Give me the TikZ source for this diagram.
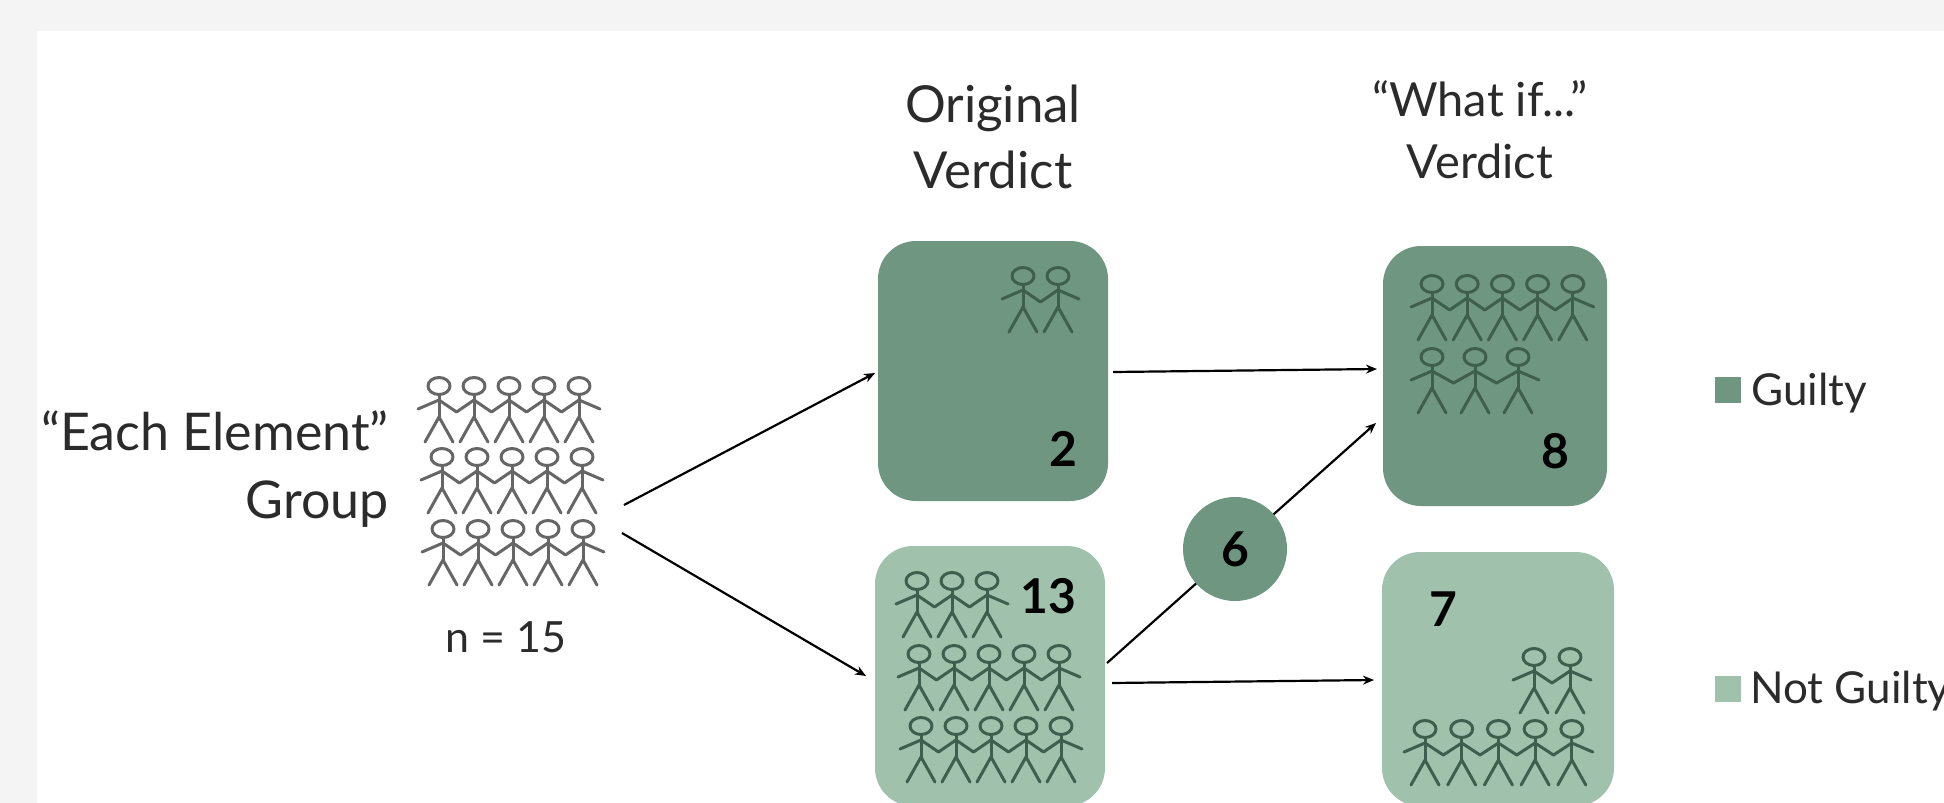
\documentclass[tikz,border=0pt]{standalone}
\usepackage{fontspec}
\setmainfont{Lato}
\usetikzlibrary{arrows.meta}
\definecolor{guiltyc}{HTML}{6F9680}
\definecolor{notc}{HTML}{A0C2AD}
\definecolor{pagec}{HTML}{F4F4F4}
\definecolor{inkc}{HTML}{2B2B2B}
\definecolor{greyfolk}{HTML}{666666}
\definecolor{greenfolk}{HTML}{3F5F4E}
\newcommand\fsz[2]{\fontsize{#1}{#2}\selectfont}
% x of first head, top y, head spacing, count, colour
\newcommand\folkrow[5]{%
  \begin{scope}[shift={(#1,#2)},draw=#5,line width=3pt,line cap=round,line join=round]
    \pgfmathtruncatemacro\lastidx{#4-1}
    \pgfmathtruncatemacro\penidx{#4-2}
    \foreach \i in {0,...,\lastidx}{
      \begin{scope}[shift={(\i*#3,0)}]
        \draw (0,9) ellipse [x radius=11,y radius=8.5];
        \draw (0,18) -- (0,40);
        \draw (-14,65) -- (0,40) -- (14,65);
      \end{scope}
    }
    \draw (0,23) -- (-21,32);
    \draw (\lastidx*#3,23) -- (\lastidx*#3+21,32);
    \ifnum\penidx>-1
    \foreach \i in {0,...,\penidx}{
      \draw (\i*#3,23) -- (\i*#3+#3/2,35) -- (\i*#3+#3,23);
    }
    \fi
  \end{scope}}
\tikzset{
  x=1pt,y=-1pt,
  box/.style={rectangle,rounded corners=38pt,draw=none,inner sep=0pt,minimum width=#1},
  boxg/.style={box=230pt,fill=guiltyc,minimum height=260pt},
  boxn/.style={box=230pt,fill=notc,minimum height=260pt},
  count/.style={font=\fsz{48}{56}\bfseries,text=black,inner sep=0pt},
  head/.style={text=inkc,align=center,inner sep=0pt},
  legend/.style={text=inkc,anchor=west,inner sep=0pt,font=\fsz{44}{50}},
  swatch/.style={rectangle,draw=none,inner sep=0pt,minimum size=26pt},
  conn/.style={black,line width=2.2pt,-{Stealth[length=11pt,width=9pt]}},
}
\begin{document}
\begin{tikzpicture}
\useasboundingbox (0,0) rectangle (1944,803);
\clip (0,0) rectangle (1944,803);
\fill[pagec] (0,0) rectangle (1944,803);
\fill[white] (37,31) rectangle (1944,803);

% headings
\node[head,font=\fsz{51}{66}] (orig) at (993,137) {Original\\Verdict};
\node[head,font=\fsz{47}{62}] (whatif) at (1480,130) {“What if...”\\Verdict};
\node[head,font=\fsz{52}{68},align=right,anchor=east] (group) at (389,469) {“Each Element”\\Group};
\node[head,font=\fsz{43}{48}] (nlabel) at (506,637) {n = 15};

% boxes
\node[boxg] (b1) at (993,371) {};
\node[boxg,minimum width=224pt] (b2) at (1495,376) {};
\node[boxn] (b3) at (990,676) {};
\node[boxn,minimum width=232pt,minimum height=254pt] (b4) at (1498,679) {};

% connector ends
\coordinate (g1) at (624,505);
\coordinate (g2) at (622,533);
\coordinate (t1) at (875,373);
\coordinate (t3) at (866,676);
\coordinate (o1) at (1113,372);
\coordinate (i2) at (1377,369);
\coordinate (o3) at (1112,683);
\coordinate (i4) at (1374,680);
\coordinate (o5) at (1107,663);
\coordinate (i5) at (1376,423);

\draw[conn] (g1) -- (t1);
\draw[conn] (g2) -- (t3);
\draw[conn] (o1) -- (i2);
\draw[conn] (o3) -- (i4);
\draw[conn] (o5) -- (i5);

\node[circle,fill=guiltyc,draw=none,minimum size=104pt,inner sep=0pt,font=\fsz{48}{56}\bfseries,text=black] (six) at (1235,549) {6};

% group
\folkrow{439}{377}{35}{5}{greyfolk}
\folkrow{442}{448}{35}{5}{greyfolk}
\folkrow{443}{520}{35}{5}{greyfolk}

% box figures
\folkrow{1023}{267}{35}{2}{greenfolk}
\folkrow{1432}{275}{35.2}{5}{greenfolk}
\folkrow{1432}{348}{43}{3}{greenfolk}
\folkrow{917}{572}{35}{3}{greenfolk}
\folkrow{919}{645}{35}{5}{greenfolk}
\folkrow{921}{717}{35}{5}{greenfolk}
\folkrow{1534}{648}{36}{2}{greenfolk}
\folkrow{1425}{720}{36.7}{5}{greenfolk}

% counts
\node[count] (n2) at (1063,449) {2};
\node[count] (n8) at (1555,451) {8};
\node[count] (n13) at (1048,596) {13};
\node[count] (n7) at (1443,609) {7};

% legend
\node[swatch,fill=guiltyc] (sg) at (1728,390) {};
\node[legend] (lg) at (1751,393) {Guilty};
\node[swatch,fill=notc] (sn) at (1728,689) {};
\node[legend] (ln) at (1750,691) {Not Guilty};
\end{tikzpicture}
\end{document}
